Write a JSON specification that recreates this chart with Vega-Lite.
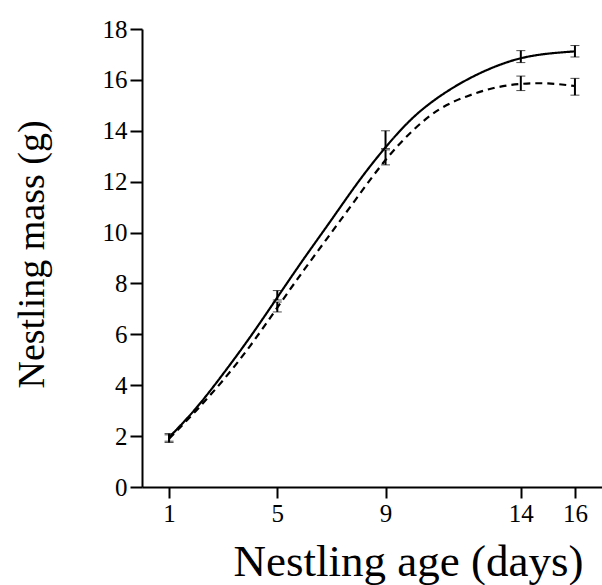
{
  "$schema": "https://vega.github.io/schema/vega-lite/v6.json",
  "autosize": "none",
  "width": 460,
  "height": 458,
  "padding": {"left": 142, "top": 29, "right": 0, "bottom": 98},
  "background": "white",
  "config": {
    "view": {"stroke": null},
    "font": "Liberation Serif",
    "axis": {
      "grid": false,
      "domainColor": "black",
      "domainWidth": 2,
      "tickColor": "black",
      "tickWidth": 2,
      "labelFont": "Liberation Serif",
      "labelFontSize": 25,
      "labelColor": "black",
      "titleFont": "Liberation Serif",
      "titleFontWeight": "normal",
      "titleColor": "black"
    }
  },
  "datasets": {
    "curves": [
      {"day": 1, "mass": 1.95, "group": "solid"},
      {"day": 2, "mass": 3.1, "group": "solid"},
      {"day": 3, "mass": 4.45, "group": "solid"},
      {"day": 4, "mass": 5.9, "group": "solid"},
      {"day": 5, "mass": 7.45, "group": "solid"},
      {"day": 6, "mass": 9.0, "group": "solid"},
      {"day": 7, "mass": 10.5, "group": "solid"},
      {"day": 8, "mass": 12.0, "group": "solid"},
      {"day": 9, "mass": 13.35, "group": "solid"},
      {"day": 10, "mass": 14.5, "group": "solid"},
      {"day": 11, "mass": 15.35, "group": "solid"},
      {"day": 12, "mass": 16.0, "group": "solid"},
      {"day": 13, "mass": 16.5, "group": "solid"},
      {"day": 14, "mass": 16.85, "group": "solid"},
      {"day": 15, "mass": 17.03, "group": "solid"},
      {"day": 16, "mass": 17.12, "group": "solid"},
      {"day": 1, "mass": 1.9, "group": "dashed"},
      {"day": 2, "mass": 3.0, "group": "dashed"},
      {"day": 3, "mass": 4.2, "group": "dashed"},
      {"day": 4, "mass": 5.55, "group": "dashed"},
      {"day": 5, "mass": 7.05, "group": "dashed"},
      {"day": 6, "mass": 8.55, "group": "dashed"},
      {"day": 7, "mass": 10.0, "group": "dashed"},
      {"day": 8, "mass": 11.45, "group": "dashed"},
      {"day": 9, "mass": 12.85, "group": "dashed"},
      {"day": 10, "mass": 14.0, "group": "dashed"},
      {"day": 11, "mass": 14.85, "group": "dashed"},
      {"day": 12, "mass": 15.35, "group": "dashed"},
      {"day": 13, "mass": 15.68, "group": "dashed"},
      {"day": 14, "mass": 15.84, "group": "dashed"},
      {"day": 15, "mass": 15.86, "group": "dashed"},
      {"day": 16, "mass": 15.76, "group": "dashed"}
    ],
    "bars": [
      {"day": 1, "lo": 1.8, "hi": 2.1, "group": "solid"},
      {"day": 5, "lo": 7.35, "hi": 7.72, "group": "solid"},
      {"day": 9, "lo": 13.3, "hi": 14.0, "group": "solid"},
      {"day": 14, "lo": 16.68, "hi": 17.15, "group": "solid"},
      {"day": 16, "lo": 16.9, "hi": 17.35, "group": "solid"},
      {"day": 1, "lo": 1.75, "hi": 2.05, "group": "dashed"},
      {"day": 5, "lo": 6.88, "hi": 7.27, "group": "dashed"},
      {"day": 9, "lo": 12.66, "hi": 13.25, "group": "dashed"},
      {"day": 14, "lo": 15.58, "hi": 16.15, "group": "dashed"},
      {"day": 16, "lo": 15.4, "hi": 16.06, "group": "dashed"}
    ]
  },
  "encoding": {
    "x": {
      "type": "quantitative",
      "scale": {"domain": [0, 17], "nice": false, "zero": false},
      "axis": {
        "values": [1, 5, 9, 14, 16],
        "title": "Nestling age (days)",
        "titleFontSize": 45,
        "tickSize": 11,
        "labelPadding": 3,
        "titleX": 266,
        "titleY": 88,
        "titleBaseline": "alphabetic",
        "titleAnchor": "middle",
        "titleAlign": "center"
      }
    },
    "y": {
      "type": "quantitative",
      "scale": {"domain": [0, 18], "nice": false},
      "axis": {
        "values": [0, 2, 4, 6, 8, 10, 12, 14, 16, 18],
        "title": "Nestling mass (g)",
        "titleFontSize": 38,
        "tickSize": 12,
        "labelPadding": 3,
        "titleX": -110,
        "titleY": 225,
        "titleAngle": -90,
        "titleBaseline": "middle",
        "titleAlign": "center",
        "titleAnchor": "middle"
      }
    }
  },
  "layer": [
    {
      "data": {"name": "curves"},
      "mark": {"type": "line", "interpolate": "natural", "color": "black", "strokeWidth": 2.2},
      "encoding": {
        "x": {"field": "day", "type": "quantitative"},
        "y": {"field": "mass", "type": "quantitative"},
        "detail": {"field": "group"},
        "strokeDash": {
          "field": "group",
          "type": "nominal",
          "scale": {"domain": ["solid", "dashed"], "range": [[1, 0], [7, 5]]},
          "legend": null
        }
      }
    },
    {
      "data": {"name": "bars"},
      "mark": {"type": "errorbar", "color": "black", "ticks": {"size": 9, "strokeWidth": 2.5, "color": "black"}, "rule": {"strokeWidth": 2, "color": "black"}},
      "encoding": {
        "x": {"field": "day", "type": "quantitative"},
        "y": {"field": "lo", "type": "quantitative"},
        "y2": {"field": "hi"}
      }
    }
  ]
}
